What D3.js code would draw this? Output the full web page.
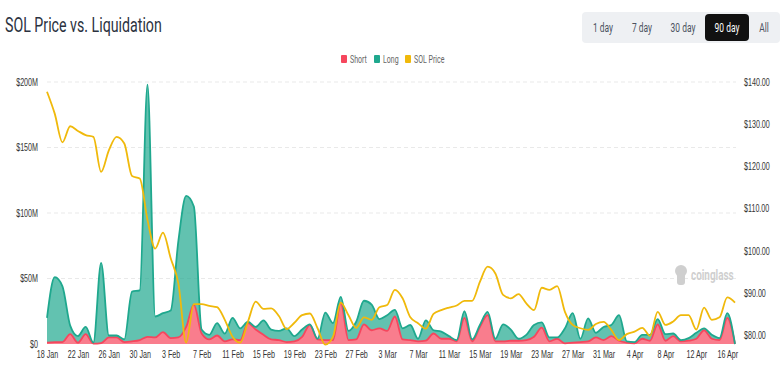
<!DOCTYPE html>
<html>
<head>
<meta charset="utf-8">
<script src="https://cdnjs.cloudflare.com/ajax/libs/d3/7.8.5/d3.min.js"></script>
<style>
    html, body { margin: 0; padding: 0; background: #fff; }
    svg { display: block; }
    text { font-family: "Roboto", "Liberation Sans", sans-serif; }
</style>
</head>
<body>
<svg id="chart" width="783" height="388"></svg>
<script>
    // daily values, 18 Jan to 17 Apr ($M and $)
    const firstDay = "2026-01-18"
    const shortLiq = [1,1.5,1.5,7.5,1,7.5,.3,.7,5,5,1.5,2,3,5.5,5,9,4.5,5,13,30,
        8,3.5,6.5,2,3.5,3,16,11,7,3.5,3,1.5,2,5.5,14.5,3.5,3,3,31.5,3,
        3.5,15,10.5,12,10,21,3.5,3,2,2.5,8,4,4,2,20,2,13,22,2,2,
        2.5,2.5,3,5.5,12.5,2,4,.5,1,1.5,2,5,3,6,2.5,1,.5,4,2.5,15,
        2.5,6,2,2.5,4,10.5,4,3,20,0]
    const longLiq = [19,49.5,42.5,6.5,5,5.5,.7,61.3,1.5,1.5,2,38,38,192.5,16,14.5,21,74,100,75,
        3,3.5,9.5,6,16.5,9,1,2,11,7.5,7,10.5,4,5.5,.5,.5,21,13,4.5,7,
        13.5,18,19.5,7,12,5,8.5,11.5,2,15.5,2.5,5.5,2,1,5,1.5,1.5,2.5,2,13,
        8.5,1.5,4,9,4,3,1,11.5,22.5,2.5,17.5,3.5,10,8.5,19.5,1,1,3,4.5,4,
        5,2,1,2,4.5,1.5,3,1.5,3.5,0]
    const solPrice = [137.7,132.5,125.7,129.5,128.4,127.4,127,118.7,123.8,127,125.4,117.7,117.1,107.3,100.5,104.3,98.2,92.2,78.2,87.3,
        87.3,86.9,86.6,83.6,79.6,78.2,83.2,87.9,86.2,86.3,84.5,81.4,82.9,84.7,85.1,81.6,77.7,79.6,87.7,84.7,
        81.7,84.2,83.6,86.6,87.1,90.7,88.7,84.2,82.8,81.5,85,85.9,86.5,87,88.1,88.1,92.6,96.2,94.6,89.5,
        88.7,89.7,87.5,85.9,91.2,90.7,91.6,85.5,82.4,81.6,81.2,82.6,83.1,81.2,78.8,80.2,80.8,81.7,79.8,85.5,
        82.4,83.2,84.7,84.7,81.3,86.5,83.6,84.2,88.9,87.7]

    const liqTicks = [0, 50, 100, 150, 200]
    const priceTicks = [80, 90, 100, 110, 120, 130, 140]
    const rangeButtons = ["1 day", "7 day", "30 day", "90 day", "All"]
    const activeButton = "90 day"
    const legendItems = ["Short", "Long", "SOL Price"]

    const colors = { Short: "#f6465d", Long: "#1fa88e", "SOL Price": "#f0b90b" }

    let svg = d3.select("#chart")

    let start = d3.utcParse("%Y-%m-%d")(firstDay)
    let days = shortLiq.map((d, i) => d3.utcDay.offset(start, i))
    let rows = days.map((d, i) => ({ date: d, Short: shortLiq[i], Long: longLiq[i], price: solPrice[i] }))

    let xScale = d3.scaleUtc().domain(d3.extent(days)).range([47, 735])
    let yLiq = d3.scaleLinear().domain([0, 200]).range([344, 82])
    let yPrice = d3.scaleLinear().domain([80, 140]).range([335, 82])

    // the reference text is much narrower than any installed font, so squeeze it
    function squeeze(sel, k) {
        sel.each(function() {
            this.setAttribute("textLength", this.getComputedTextLength() * k)
            this.setAttribute("lengthAdjust", "spacingAndGlyphs")
        })
    }

    function drawHeader() {
        svg.append("text")
            .attr("x", 5).attr("y", 32)
            .attr("font-size", 20)
            .attr("fill", "#2b3240")
            .text("SOL Price vs. Liquidation")
            .call(squeeze, .71)

        svg.append("rect")
            .attr("x", 582).attr("y", 12)
            .attr("width", 198).attr("height", 31)
            .attr("rx", 4)
            .attr("fill", "#eef0f3")
        svg.append("rect")
            .attr("x", 705).attr("y", 14)
            .attr("width", 44).attr("height", 27)
            .attr("rx", 4)
            .attr("fill", "#111")

        let buttonX = d3.scaleOrdinal().domain(rangeButtons).range([603, 642, 683, 727, 764])
        svg.selectAll(".range")
            .data(rangeButtons)
            .enter()
            .append("text")
            .attr("class", "range")
            .attr("x", d => buttonX(d))
            .attr("y", 32)
            .attr("text-anchor", "middle")
            .attr("font-size", 12)
            .attr("fill", d => d === activeButton ? "#fff" : "#4a5160")
            .text(d => d)
            .call(squeeze, .7)
    }

    function drawLegend() {
        let legendX = d3.scaleOrdinal().domain(legendItems).range([341, 374, 405])
        let g = svg.selectAll(".legend")
            .data(legendItems)
            .enter()
            .append("g")
            .attr("class", "legend")
            .attr("transform", d => "translate(" + legendX(d) + ",55)")
        g.append("rect")
            .attr("width", 6).attr("height", 8)
            .attr("rx", 1)
            .attr("fill", d => colors[d])
        g.append("text")
            .attr("x", 9).attr("y", 7.5)
            .attr("font-size", 10)
            .attr("fill", "#666")
            .text(d => d)
            .call(squeeze, .7)
    }

    function drawAxes() {
        // grid first so the areas sit over it
        svg.append("g")
            .selectAll("line")
            .data(liqTicks.filter(d => d > 0))
            .enter()
            .append("line")
            .attr("x1", 47).attr("x2", 736)
            .attr("y1", d => yLiq(d)).attr("y2", d => yLiq(d))
            .attr("stroke", "#e9e9e9")
            .attr("stroke-dasharray", "4 3")

        let left = svg.append("g")
            .attr("transform", "translate(47,0)")
            .call(d3.axisLeft(yLiq).tickValues(liqTicks).tickSize(0).tickPadding(9)
                .tickFormat(d => d === 0 ? "$0" : "$" + d + "M"))

        let right = svg.append("g")
            .attr("transform", "translate(736,0)")
            .call(d3.axisRight(yPrice).tickValues(priceTicks).tickSize(0).tickPadding(8)
                .tickFormat(d => "$" + d + ".00"))

        let tickDays = days.filter((d, i) => i % 4 === 0 && i < 89)
        let bottom = svg.append("g")
            .attr("transform", "translate(0,344)")
            .call(d3.axisBottom(xScale).tickValues(tickDays).tickSize(0).tickPadding(7)
                .tickFormat(d3.utcFormat("%-d %b")))

        for (let axis of [left, right, bottom]) {
            axis.select(".domain").remove()
            axis.selectAll("text")
                .attr("font-size", 10.5)
                .attr("fill", "#333")
                .style("font-family", "inherit")
                .call(squeeze, .68)
        }
    }

    function drawWatermark() {
        let mark = svg.append("g").attr("fill", "#cfcfcf")
        mark.append("ellipse").attr("cx", 681).attr("cy", 271).attr("rx", 6).attr("ry", 6)
        mark.append("rect").attr("x", 677).attr("y", 273).attr("width", 8).attr("height", 12).attr("rx", 3)
        mark.append("text")
            .attr("x", 691).attr("y", 280)
            .attr("font-size", 15)
            .attr("font-weight", 700)
            .text("coinglass")
            .call(squeeze, .66)
    }

    function drawSeries() {
        let stacked = d3.stack().keys(["Short", "Long"])(rows)

        let area = d3.area()
            .curve(d3.curveMonotoneX)
            .x(d => xScale(d.data.date))
            .y0(d => yLiq(d[0]))
            .y1(d => yLiq(d[1]))
        let topLine = d3.line()
            .curve(d3.curveMonotoneX)
            .x(d => xScale(d.data.date))
            .y(d => yLiq(d[1]))

        svg.append("g")
            .selectAll("path")
            .data(stacked)
            .enter()
            .append("path")
            .attr("d", area)
            .attr("fill", d => colors[d.key])
            .attr("fill-opacity", .7)

        svg.append("g")
            .selectAll("path")
            .data(stacked)
            .enter()
            .append("path")
            .attr("d", topLine)
            .attr("fill", "none")
            .attr("stroke", d => colors[d.key])
            .attr("stroke-width", 1.8)

        let priceLine = d3.line()
            .curve(d3.curveMonotoneX)
            .x(d => xScale(d.date))
            .y(d => yPrice(d.price))

        svg.append("path")
            .datum(rows)
            .attr("d", priceLine)
            .attr("fill", "none")
            .attr("stroke", colors["SOL Price"])
            .attr("stroke-width", 1.8)
    }

    drawHeader()
    drawLegend()
    drawAxes()
    drawWatermark()
    drawSeries()
</script>
</body>
</html>
